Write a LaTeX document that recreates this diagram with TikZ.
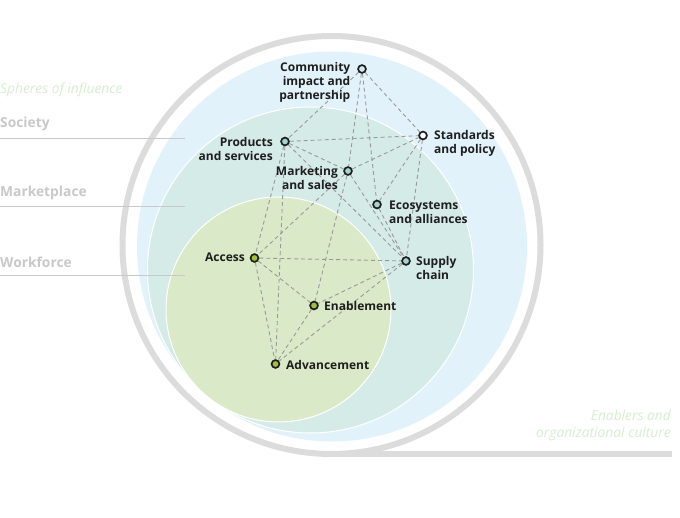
\documentclass[tikz,border=0pt]{standalone}
\usepackage{fontspec}
\setmainfont{Open Sans}
\definecolor{blueS}{HTML}{E2F2FA}
\definecolor{tealS}{HTML}{D5EBE8}
\definecolor{greenS}{HTML}{DAE9C7}
\definecolor{ringC}{HTML}{DCDCDD}
\definecolor{dashC}{HTML}{9A9A9A}
\definecolor{labC}{HTML}{1E1E1E}
\definecolor{sideC}{HTML}{C9C9C9}
\definecolor{italC}{HTML}{D8EDD2}
\definecolor{dotBlue}{HTML}{CFE9F6}
\definecolor{dotTeal}{HTML}{A6D3CF}
\definecolor{dotGreen}{HTML}{A2C03C}
\pgfdeclarelayer{bg}
\pgfdeclarelayer{edges}
\pgfsetlayers{bg,edges,main}
\tikzset{
  dot/.style={circle, draw=labC, line width=1.7pt, minimum size=7.8pt, inner sep=0pt},
  lab/.style={inner sep=0pt, text=labC, font=\fontsize{12}{14}\selectfont\bfseries},
  side/.style={inner sep=0pt, anchor=west, text=sideC, font=\fontsize{13.8}{15}\selectfont\bfseries},
  ital/.style={inner sep=0pt, text=italC, font=\fontsize{13.8}{17.5}\selectfont\itshape},
  link/.style={draw=dashC, line width=0.9pt, dash pattern=on 4pt off 3pt},
  rule/.style={draw=sideC, line width=0.8pt}
}
\begin{document}
\begin{tikzpicture}[x=1pt,y=-1pt]
\useasboundingbox (0,0) rectangle (680,518);
\begin{pgfonlayer}{bg}
\fill[white] (0,0) rectangle (680,518);
\fill[blueS] (332,246.5) circle[radius=195pt];
\filldraw[fill=tealS, draw=white, line width=1pt] (310.5,270) circle[radius=163pt];
\filldraw[fill=greenS, draw=white, line width=1pt] (278.5,309.5) circle[radius=112.5pt];
\draw[ringC, line width=6pt] (331.5,245) circle[radius=209pt];
\draw[ringC, line width=6pt] (331.5,454) -- (672,454);
\end{pgfonlayer}

% side labels
\node[ital, anchor=west] (sph) at (0,90) {Spheres of influence};
\node[side] (soc) at (0,124) {Society};
\node[side] (mkt) at (0,193) {Marketplace};
\node[side] (wrk) at (0,262) {Workforce};
\coordinate (r1a) at (0,138); \coordinate (r1b) at (185,138);
\coordinate (r2a) at (0,206); \coordinate (r2b) at (185,206);
\coordinate (r3a) at (0,275); \coordinate (r3b) at (185,275);
\draw[rule] (r1a) -- (r1b);
\draw[rule] (r2a) -- (r2b);
\draw[rule] (r3a) -- (r3b);
\node[ital, anchor=east, align=right] (enab) at (671,425.5) {Enablers and\\organizational culture};

% dots
\node[dot, fill=dotBlue] (comm) at (362,69) {};
\node[dot, fill=white] (stan) at (423,135.5) {};
\node[dot, fill=dotTeal] (prod) at (285,141.5) {};
\node[dot, fill=dotTeal] (mark) at (348,171) {};
\node[dot, fill=dotTeal] (eco) at (377,204.5) {};
\node[dot, fill=dotTeal] (sup) at (406,261) {};
\node[dot, fill=dotGreen] (acc) at (254.5,258) {};
\node[dot, fill=dotGreen] (ena) at (314,305.5) {};
\node[dot, fill=dotGreen] (adv) at (275.5,364) {};

% labels
\node[lab, anchor=east, align=right] (lcomm) at (350.5,82.5) {Community\\impact and\\partnership};
\node[lab, anchor=west, align=left] (lstan) at (434,143) {Standards\\and policy};
\node[lab, anchor=east, align=right] (lprod) at (273,149.5) {Products\\and services};
\node[lab, anchor=east, align=right] (lmark) at (338,178.5) {Marketing\\and sales};
\node[lab, anchor=west, align=left] (leco) at (389,212.5) {Ecosystems\\and alliances};
\node[lab, anchor=west, align=left] (lsup) at (416,268.5) {Supply\\chain};
\node[lab, anchor=east] (lacc) at (245,257.5) {Access};
\node[lab, anchor=west] (lena) at (324,306) {Enablement};
\node[lab, anchor=west] (ladv) at (286,365) {Advancement};

% links
\begin{pgfonlayer}{edges}
\draw[link] (comm) -- (prod);
\draw[link] (comm) -- (stan);
\draw[link] (comm) -- (mark);
\draw[link] (comm) -- (eco);
\draw[link] (prod) -- (stan);
\draw[link] (prod) -- (mark);
\draw[link] (prod) -- (sup);
\draw[link] (prod) -- (acc);
\draw[link] (prod) -- (adv);
\draw[link] (mark) -- (stan);
\draw[link] (mark) -- (acc);
\draw[link] (mark) -- (ena);
\draw[link] (mark) -- (sup);
\draw[link] (stan) -- (eco);
\draw[link] (stan) -- (sup);
\draw[link] (eco) -- (sup);
\draw[link] (acc) -- (sup);
\draw[link] (acc) -- (ena);
\draw[link] (acc) -- (adv);
\draw[link] (sup) -- (ena);
\draw[link] (sup) -- (adv);
\draw[link] (ena) -- (adv);
\end{pgfonlayer}
\end{tikzpicture}
\end{document}
